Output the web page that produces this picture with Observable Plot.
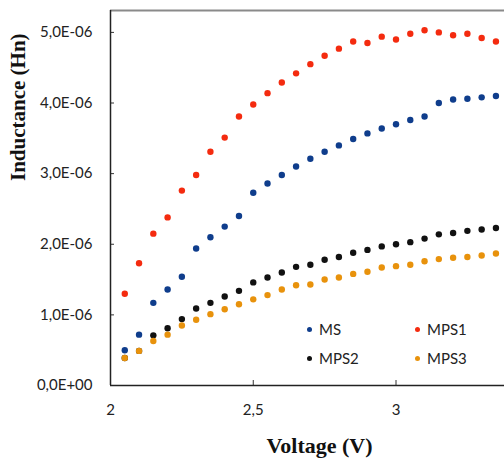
<!DOCTYPE html>
<html>
<head>
<meta charset="utf-8">
<script src="https://cdn.jsdelivr.net/npm/d3@7"></script>
<script src="https://cdn.jsdelivr.net/npm/@observablehq/plot@0.6"></script>
<style>
  body { margin: 0; background: #fff; }
  #wrap { position: relative; width: 504px; height: 466px; overflow: hidden; }
  .lg { position: absolute; font: 15px Lato, sans-serif; color: #222; display: flex; align-items: center; line-height: 1; }
  .lg i { display: inline-block; width: 5px; height: 5px; border-radius: 50%; margin-right: 7px; }
</style>
</head>
<body>
<div id="wrap"></div>
<script>
// Voltage (V)
const voltage = [2.05, 2.10, 2.15, 2.20, 2.25, 2.30, 2.35, 2.40, 2.45, 2.50, 2.55, 2.60, 2.65, 2.70,
                 2.75, 2.80, 2.85, 2.90, 2.95, 3.00, 3.05, 3.10, 3.15, 3.20, 3.25, 3.30, 3.35];
// Inductance, in units of 1E-06 Hn
const ms   = [0.50, 0.72, 1.17, 1.36, 1.54, 1.94, 2.10, 2.25, 2.40, 2.73, 2.86, 2.98, 3.10, 3.21,
              3.31, 3.40, 3.49, 3.57, 3.64, 3.70, 3.76, 3.81, 4.00, 4.05, 4.06, 4.08, 4.10];
const mps1 = [1.30, 1.73, 2.15, 2.38, 2.76, 2.98, 3.31, 3.51, 3.81, 3.98, 4.14, 4.29, 4.42, 4.55,
              4.67, 4.77, 4.87, 4.85, 4.94, 4.90, 4.98, 5.03, 5.00, 4.96, 4.98, 4.92, 4.87];
const mps2 = [0.39, 0.49, 0.71, 0.81, 0.94, 1.09, 1.17, 1.26, 1.34, 1.46, 1.53, 1.60, 1.68, 1.71,
              1.78, 1.82, 1.88, 1.92, 1.97, 2.00, 2.03, 2.08, 2.14, 2.16, 2.19, 2.21, 2.23];
const mps3 = [0.39, 0.49, 0.63, 0.72, 0.85, 0.93, 1.01, 1.08, 1.15, 1.22, 1.28, 1.36, 1.42, 1.43,
              1.50, 1.53, 1.58, 1.61, 1.67, 1.69, 1.71, 1.76, 1.79, 1.81, 1.82, 1.84, 1.87];

const seriesNames = ["MS", "MPS1", "MPS2", "MPS3"];
const seriesColors = ["#0f3d8c", "#f42b0f", "#111111", "#e8920c"];
const xTicks = [2, 2.5, 3];
const yTicks = [0, 1e-6, 2e-6, 3e-6, 4e-6, 5e-6];
const xDomain = [2, 3.38];
const yDomain = [0, 5.31e-6];

const seriesValues = [ms, mps1, mps2, mps3];
const rows = [];
seriesNames.forEach((name, s) => {
  seriesValues[s].forEach((v, i) => rows.push({series: name, voltage: voltage[i], inductance: v * 1e-6}));
});

const fmtY = d => d === 0 ? "0,0E+00" : (d / 1e-6).toFixed(1).replace(".", ",") + "E-06";
const fmtX = d => String(d).replace(".", ",");

const chart = Plot.plot({
  width: 504,
  height: 466,
  marginLeft: 110,
  marginRight: 0,
  marginTop: 10,
  marginBottom: 81,
  style: {fontFamily: "Lato, sans-serif", fontSize: "15px", color: "#222", background: "#fff", overflow: "visible"},
  x: {domain: xDomain, axis: null},
  y: {domain: yDomain, axis: null},
  color: {domain: seriesNames, range: seriesColors},
  marks: [
    Plot.ruleY([yDomain[1]], {stroke: "#8a8a8a", strokeWidth: 2}),
    Plot.axisX(xTicks, {tickSize: 0, tickPadding: 19, tickFormat: fmtX, label: null, fontSize: 15}),
    Plot.axisY(yTicks, {tickSize: 0, tickPadding: 18, tickFormat: fmtY, label: null, fontSize: 15}),
    Plot.tickX(xTicks, {x: d => d, insetTop: 370, stroke: "#333"}),
    Plot.tickY(yTicks, {y: d => d, insetRight: 390, stroke: "#333"}),
    Plot.ruleX([xDomain[0]], {stroke: "#222", strokeWidth: 1.5}),
    Plot.ruleY([yDomain[0]], {stroke: "#222", strokeWidth: 1.5}),
    Plot.dot(rows, {x: "voltage", y: "inductance", fill: "series", r: 3.2}),
    Plot.text(["Voltage (V)"], {text: d => d, frameAnchor: "bottom", dy: 67, dx: 12,
      fontFamily: "Liberation Serif", fontWeight: "bold", fontSize: 22, fill: "#111"}),
    Plot.text(["Inductance (Hn)"], {text: d => d, frameAnchor: "left", rotate: -90, dx: -92, dy: -17,
      fontFamily: "Liberation Serif", fontWeight: "bold", fontSize: 21, fill: "#111"})
  ]
});

const wrap = document.getElementById("wrap");
wrap.appendChild(chart);

// legend inside the plot area
const legendPos = [[307, 330], [415, 330], [307, 359], [415, 359]];
seriesNames.forEach((name, i) => {
  const el = document.createElement("div");
  el.className = "lg";
  el.style.left = legendPos[i][0] + "px";
  el.style.top = (legendPos[i][1] - 8) + "px";
  el.innerHTML = `<i style="background:${seriesColors[i]}"></i>${name}`;
  wrap.appendChild(el);
});
</script>
</body>
</html>
